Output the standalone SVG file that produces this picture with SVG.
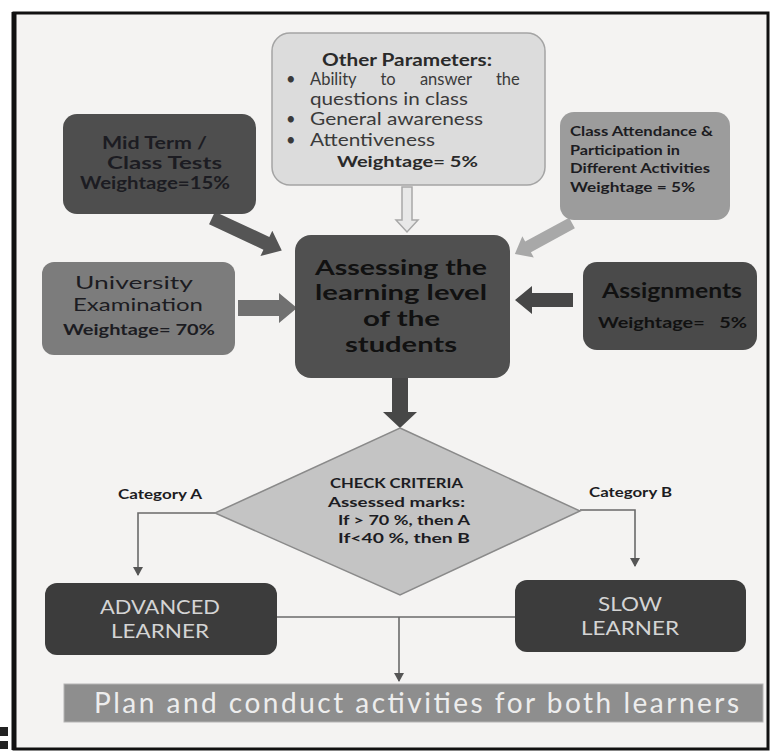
<svg xmlns="http://www.w3.org/2000/svg" width="772" height="753" viewBox="0 0 772 753">
<defs>
<style>
text{font-family:Lato,"Open Sans","Liberation Sans",sans-serif}
.b{font-weight:bold}
.dk{fill:#1c1c22}
.lt{fill:#d4d4d4}
.c{text-anchor:middle}
.thin{fill:none;stroke:#6a6a6a;stroke-width:1.6}
</style>
<marker id="ah" markerWidth="10" markerHeight="10" refX="8" refY="5" orient="auto" markerUnits="userSpaceOnUse">
<path d="M0,0 L9,5 L0,10 Z" fill="#555"/>
</marker>
</defs>
<rect x="0" y="0" width="772" height="753" fill="#ffffff"/>
<rect x="14" y="13" width="754" height="736" fill="#f4f3f2" stroke="#111" stroke-width="3"/>
<line x1="14" y1="12" x2="14" y2="750" stroke="#111" stroke-width="5"/>
<rect x="0" y="727" width="8" height="9" fill="#222"/>
<rect x="0" y="741" width="8" height="8" fill="#222"/>

<g id="connectors">
<path d="M0,-5 L33,-5 L33,-11 L45,0 L33,11 L33,5 L0,5 Z" transform="translate(407,187) rotate(90)" fill="#e8e8e8" stroke="#a8a8a8" stroke-width="1.5"/>
<path d="M0,-7 L60,-7 L60,-14 L77,0 L60,14 L60,7 L0,7 Z" transform="translate(212,218) rotate(25)" fill="#555"/>
<path d="M0,-6 L50,-6 L50,-12 L65,0 L50,12 L50,6 L0,6 Z" transform="translate(572,223) rotate(151.5)" fill="#a8a8a8"/>
<path d="M0,-8 L41,-8 L41,-15 L59,0 L41,15 L41,8 L0,8 Z" transform="translate(238,308)" fill="#707070"/>
<path d="M0,-7 L41,-7 L41,-14 L58,0 L41,14 L41,7 L0,7 Z" transform="translate(573,300) rotate(180)" fill="#474747"/>
<path d="M0,-8 L34,-8 L34,-17 L50,0 L34,17 L34,8 L0,8 Z" transform="translate(400,378) rotate(90)" fill="#474747"/>
<path class="thin" d="M215,513 H138 V575" marker-end="url(#ah)"/>
<path class="thin" d="M580,510 H635 V566" marker-end="url(#ah)"/>
<path class="thin" d="M277,617 H515"/>
<path class="thin" d="M399,617 V681" marker-end="url(#ah)"/>
</g>

<g id="other-parameters">
<rect x="272" y="33" width="273" height="152" rx="18" fill="#dcdcdc" stroke="#a4a4a4" stroke-width="1.5"/>
<text x="322" y="66" class="b" font-size="16.5" fill="#2a2a2a" textLength="170" lengthAdjust="spacingAndGlyphs">Other Parameters:</text>
<g font-size="16.5" fill="#3a3a3a">
<text x="286" y="85">•</text>
<text x="310" y="85" word-spacing="20">Ability to answer the</text>
<text x="310" y="105" textLength="158" lengthAdjust="spacingAndGlyphs">questions in class</text>
<text x="286" y="125">•</text>
<text x="310" y="125" textLength="173" lengthAdjust="spacingAndGlyphs">General awareness</text>
<text x="286" y="146">•</text>
<text x="310" y="146" textLength="125" lengthAdjust="spacingAndGlyphs">Attentiveness</text>
</g>
<text x="337" y="167" class="b" font-size="16" fill="#2a2a2a" textLength="141" lengthAdjust="spacingAndGlyphs">Weightage= 5%</text>
</g>

<g id="mid-term">
<rect x="63" y="114" width="193" height="100" rx="14" fill="#4e4e4e"/>
<text x="102" y="149" class="b dk" font-size="16.5" textLength="105" lengthAdjust="spacingAndGlyphs">Mid Term /</text>
<text x="107" y="169" class="b dk" font-size="16.5" textLength="115" lengthAdjust="spacingAndGlyphs">Class Tests</text>
<text x="80" y="189" class="b dk" font-size="16.5" textLength="150" lengthAdjust="spacingAndGlyphs">Weightage=15%</text>
</g>

<g id="class-attendance">
<rect x="560" y="112" width="170" height="108" rx="14" fill="#9c9c9c"/>
<g class="b dk" font-size="12.5">
<text x="570" y="136" textLength="143" lengthAdjust="spacingAndGlyphs">Class Attendance &amp;</text>
<text x="570" y="155" textLength="110" lengthAdjust="spacingAndGlyphs">Participation in</text>
<text x="570" y="173" textLength="140" lengthAdjust="spacingAndGlyphs">Different Activities</text>
<text x="570" y="192" textLength="125" lengthAdjust="spacingAndGlyphs">Weightage = 5%</text>
</g>
</g>

<g id="university">
<rect x="42" y="262" width="193" height="93" rx="12" fill="#7c7c7c"/>
<text x="75" y="289" class="dk" font-size="18" textLength="118" lengthAdjust="spacingAndGlyphs">University</text>
<text x="73" y="311" class="dk" font-size="18" textLength="130" lengthAdjust="spacingAndGlyphs">Examination</text>
<text x="63" y="335" class="b dk" font-size="15" textLength="152" lengthAdjust="spacingAndGlyphs">Weightage= 70%</text>
</g>

<g id="assessing">
<rect x="295" y="235" width="215" height="143" rx="16" fill="#505050"/>
<g class="b" font-size="21" fill="#111">
<text x="315" y="275" textLength="172" lengthAdjust="spacingAndGlyphs">Assessing the</text>
<text x="315" y="300" textLength="172" lengthAdjust="spacingAndGlyphs">learning level</text>
<text x="363" y="326" textLength="77" lengthAdjust="spacingAndGlyphs">of the</text>
<text x="345" y="352" textLength="112" lengthAdjust="spacingAndGlyphs">students</text>
</g>
</g>

<g id="assignments">
<rect x="583" y="262" width="174" height="88" rx="14" fill="#4a4a4a"/>
<text x="602" y="298" class="b" font-size="20" fill="#111" textLength="140" lengthAdjust="spacingAndGlyphs">Assignments</text>
<text x="598" y="328" class="b" font-size="15" fill="#111" xml:space="preserve" textLength="149" lengthAdjust="spacingAndGlyphs">Weightage=   5%</text>
</g>

<g id="check-criteria">
<polygon points="400,428 580,511 400,595 215,513" fill="#c4c4c4" stroke="#8a8a8a" stroke-width="1.5"/>
<g class="b dk" font-size="14">
<text x="330" y="488" textLength="133" lengthAdjust="spacingAndGlyphs">CHECK CRITERIA</text>
<text x="328" y="507" textLength="137" lengthAdjust="spacingAndGlyphs">Assessed marks:</text>
<text x="338" y="525" textLength="132" lengthAdjust="spacingAndGlyphs">If &gt; 70 %, then A</text>
<text x="338" y="543" textLength="132" lengthAdjust="spacingAndGlyphs">If&lt;40 %, then B</text>
</g>
</g>

<g id="category-labels" class="b dk" font-size="13">
<text x="118" y="499" textLength="84" lengthAdjust="spacingAndGlyphs">Category A</text>
<text x="589" y="497" textLength="83" lengthAdjust="spacingAndGlyphs">Category B</text>
</g>

<g id="advanced">
<rect x="45" y="583" width="232" height="72" rx="12" fill="#3c3c3c"/>
<text x="100" y="614" class="lt" font-size="20" textLength="120" lengthAdjust="spacingAndGlyphs">ADVANCED</text>
<text x="111" y="638" class="lt" font-size="20" textLength="98" lengthAdjust="spacingAndGlyphs">LEARNER</text>
</g>

<g id="slow">
<rect x="515" y="580" width="231" height="72" rx="12" fill="#3c3c3c"/>
<text x="598" y="611" class="lt" font-size="20" textLength="64" lengthAdjust="spacingAndGlyphs">SLOW</text>
<text x="581" y="635" class="lt" font-size="20" textLength="98" lengthAdjust="spacingAndGlyphs">LEARNER</text>
</g>

<g id="plan">
<rect x="64" y="684" width="699" height="38" fill="#8e8e8e" stroke="#b4b4b4" stroke-width="1"/>
<text x="94" y="713" font-size="28" fill="#ededed" textLength="645" lengthAdjust="spacing">Plan and conduct activities for both learners</text>
</g>
</svg>
